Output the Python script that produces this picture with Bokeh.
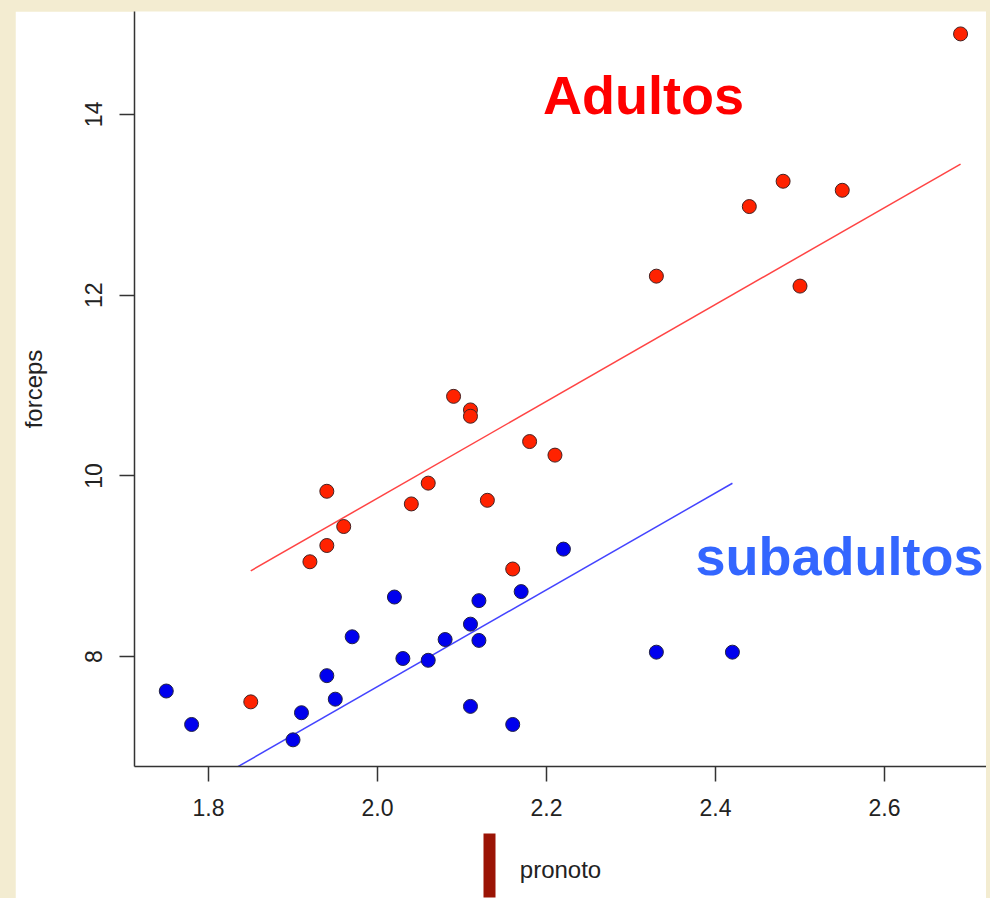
import numpy as np
from bokeh.plotting import figure
from bokeh.layouts import column
from bokeh.models import Label, Range1d, FixedTicker, LinearAxis
from bokeh.embed import file_html
from bokeh.resources import INLINE

# Data
adult_pronoto = [1.85, 1.92, 1.94, 1.94, 1.96, 2.04, 2.06, 2.09, 2.11, 2.11,
                 2.13, 2.16, 2.18, 2.21, 2.33, 2.44, 2.48, 2.50, 2.55, 2.69]
adult_forceps = [7.50, 9.05, 9.23, 9.83, 9.44, 9.69, 9.92, 10.88, 10.73, 10.66,
                 9.73, 8.97, 10.38, 10.23, 12.21, 12.98, 13.26, 12.10, 13.16, 14.89]
sub_pronoto = [1.75, 1.78, 1.90, 1.91, 1.94, 1.95, 1.97, 2.02, 2.03, 2.06,
               2.08, 2.11, 2.11, 2.12, 2.12, 2.16, 2.17, 2.22, 2.33, 2.42]
sub_forceps = [7.62, 7.25, 7.08, 7.38, 7.79, 7.53, 8.22, 8.66, 7.98, 7.96,
               8.19, 8.36, 7.45, 8.62, 8.18, 7.25, 8.72, 9.19, 8.05, 8.05]
x_ticks = [1.8, 2.0, 2.2, 2.4, 2.6]
y_ticks = [8, 10, 12, 14]

# ANCOVA-style fit: common slope, group-specific intercepts
ax, ay = np.array(adult_pronoto), np.array(adult_forceps)
sx, sy = np.array(sub_pronoto), np.array(sub_forceps)
sxy = ((ax - ax.mean()) * (ay - ay.mean())).sum() + ((sx - sx.mean()) * (sy - sy.mean())).sum()
sxx = ((ax - ax.mean()) ** 2).sum() + ((sx - sx.mean()) ** 2).sum()
slope = sxy / sxx
a_line_x = np.array([ax.min(), ax.max()])
a_line_y = ay.mean() + slope * (a_line_x - ax.mean())
s_line_x = np.array([sx.min(), sx.max()])
s_line_y = sy.mean() + slope * (s_line_x - sx.mean())

BEIGE = "#f3ecd1"
FONT = "Liberation Sans"

p = figure(width=971, height=887,
           x_range=Range1d(1.7124, 2.7207), y_range=Range1d(6.785, 15.138),
           output_backend="svg", toolbar_location=None,
           min_border_left=119, min_border_right=0,
           min_border_top=0, min_border_bottom=132)
p.margin = (11, 4, 0, 15)
p.border_fill_color = "white"
p.background_fill_color = "white"
p.outline_line_color = None
p.xgrid.visible = False
p.ygrid.visible = False

for axis in (p.xaxis, p.yaxis):
    axis.axis_line_color = "#333333"
    axis.axis_line_width = 1.5
    axis.major_tick_line_color = "#333333"
    axis.major_tick_line_width = 1.5
    axis.major_tick_out = 15
    axis.major_tick_in = 0
    axis.minor_tick_line_color = None
    axis.major_label_text_font = FONT
    axis.major_label_text_font_size = "23px"
    axis.major_label_text_color = "#222222"
    axis.major_label_standoff = 17
    axis.axis_label_text_font = FONT
    axis.axis_label_text_font_size = "24px"
    axis.axis_label_text_font_style = "normal"
    axis.axis_label_text_color = "#222222"

p.xaxis.ticker = FixedTicker(ticks=x_ticks)
p.yaxis.ticker = FixedTicker(ticks=y_ticks)
p.xaxis.major_label_overrides = {t: f"{t:.1f}" for t in x_ticks}
p.yaxis.major_label_orientation = "vertical"
p.xaxis.axis_label = "pronoto"
p.yaxis.axis_label = "forceps"
p.xaxis.axis_label_standoff = 37
p.yaxis.axis_label_standoff = 36

# decorative dark red bar under the axis, drawn as a wide inward tick of a blank axis
bar_axis = LinearAxis(ticker=FixedTicker(ticks=[2.1325]),
                      axis_line_color=None, minor_tick_line_color=None,
                      major_tick_line_color="#9b1405", major_tick_line_width=12,
                      major_tick_line_cap="butt",
                      major_tick_in=52, major_tick_out=12,
                      major_label_text_color=None, major_label_text_font_size="1px",
                      major_label_standoff=0)
p.add_layout(bar_axis, "below")

# fitted lines
p.line(a_line_x, a_line_y, line_color="#ff4444", line_width=1.5)
p.line(s_line_x, s_line_y, line_color="#4444ff", line_width=1.5)

# points
p.scatter(sub_pronoto, sub_forceps, size=14, fill_color="#0000ee",
          line_color="#222244", line_width=1)
p.scatter(adult_pronoto, adult_forceps, size=14, fill_color="#ff2200",
          line_color="#442222", line_width=1)

p.add_layout(Label(x=2.3148, y=14.21, text="Adultos", text_align="center",
                   text_baseline="alphabetic", text_color="#ff0000",
                   text_font=FONT, text_font_style="bold", text_font_size="54px"))
p.add_layout(Label(x=2.3763, y=9.115, text="subadultos", text_align="left",
                   text_baseline="alphabetic", text_color="#3366ff",
                   text_font=FONT, text_font_style="bold", text_font_size="54px"))

layout = column(p, styles={"background-color": BEIGE})
open("out.html", "w").write(file_html(layout, INLINE))
